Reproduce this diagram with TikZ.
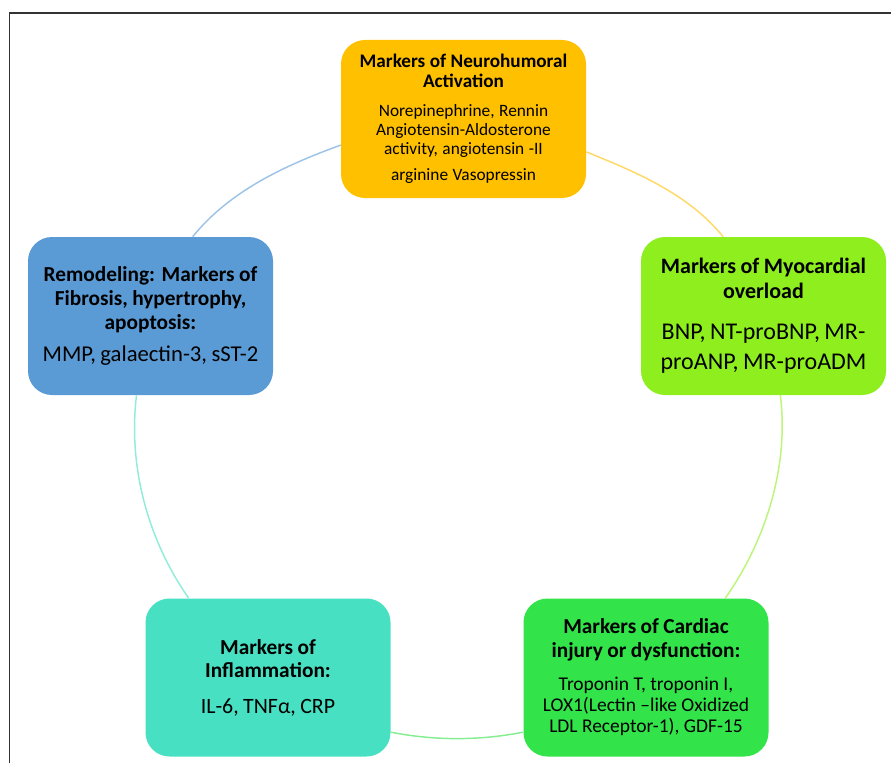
\documentclass[tikz,border=0pt]{standalone}
\usepackage{fontspec}
\setmainfont{Carlito}
\usepackage{tikz}
\usetikzlibrary{positioning}
\definecolor{neurocol}{HTML}{FFC000}
\definecolor{myocol}{HTML}{8FEE1E}
\definecolor{cardcol}{HTML}{33E34A}
\definecolor{inflcol}{HTML}{48E0C2}
\definecolor{remcol}{HTML}{5B9BD5}
\tikzset{
  markbox/.style={rectangle, rounded corners=18pt, draw=none,
                  minimum width=183.75pt, minimum height=118.5pt,
                  text width=180pt, inner xsep=1.875pt, align=center},
  ring/.style={line width=1.1pt, looseness=0.87},
}

\begin{document}
\begin{tikzpicture}[x=0.75pt, y=0.75pt]
    \useasboundingbox (0,0) rectangle (891,-763);
    \draw[line width=0.9pt, black!80] (9.5,-763) |- (891,-13);
    \node[markbox, fill=neurocol] (neuro) at (463.5,-119)
      {{\fontsize{14.4}{15}\selectfont\bfseries Markers of Neurohumoral\\Activation\par}\vspace{8pt}
       {\fontsize{13}{14}\selectfont Norepinephrine, Rennin\\Angiotensin-Aldosterone\\activity, angiotensin -II\par}\vspace{6pt}
       {\fontsize{13}{14}\selectfont arginine Vasopressin\par}};
    \node[markbox, fill=remcol] (remod) at (150.5,-316)
      {{\fontsize{16}{18}\selectfont\bfseries Remodeling: Markers of\\Fibrosis, hypertrophy,\\apoptosis:\par}\vspace{5.5pt}
       {\fontsize{17}{19}\selectfont MMP, galaectin-3, sST-2\par}};
    \node[markbox, fill=myocol] (myo) at (763.5,-316)
      {{\fontsize{16.5}{18.5}\selectfont\bfseries Markers of Myocardial\\overload\par}\vspace{8.5pt}
       {\fontsize{18}{22.5}\selectfont BNP, NT-proBNP, MR-\\proANP, MR-proADM\par}};
    \node[markbox, fill=cardcol] (cardiac) at (646,-677.5)
      {{\fontsize{16}{18}\selectfont\bfseries Markers of Cardiac\\injury or dysfunction:\par}\vspace{9pt}
       {\fontsize{14.6}{15.75}\selectfont Troponin T, troponin I,\\LOX1(Lectin –like Oxidized\\LDL Receptor-1), GDF-15\par}};
    \node[markbox, fill=inflcol] (inflam) at (268,-677.5)
      {{\fontsize{16}{17.25}\selectfont\bfseries Markers of\\Inflammation:\par}\vspace{8pt}
       {\fontsize{16.4}{19}\selectfont IL-6, TNFα, CRP\par}};
    \draw[ring, color=remcol!60] (remod.62) to[out=51, in=200] (neuro.192);
    \draw[ring, color=neurocol!60] (neuro.345) to[out=-22, in=129] (myo.117);
    \draw[ring, color=myocol!60] (myo.-78) to[out=-83, in=55] (cardiac.45);
    \draw[ring, color=cardcol!60] (cardiac.204) to[out=191, in=-11] (inflam.-24);
    \draw[ring, color=inflcol!60] (inflam.135) to[out=125, in=263] (remod.260);
  \end{tikzpicture}
\end{document}
